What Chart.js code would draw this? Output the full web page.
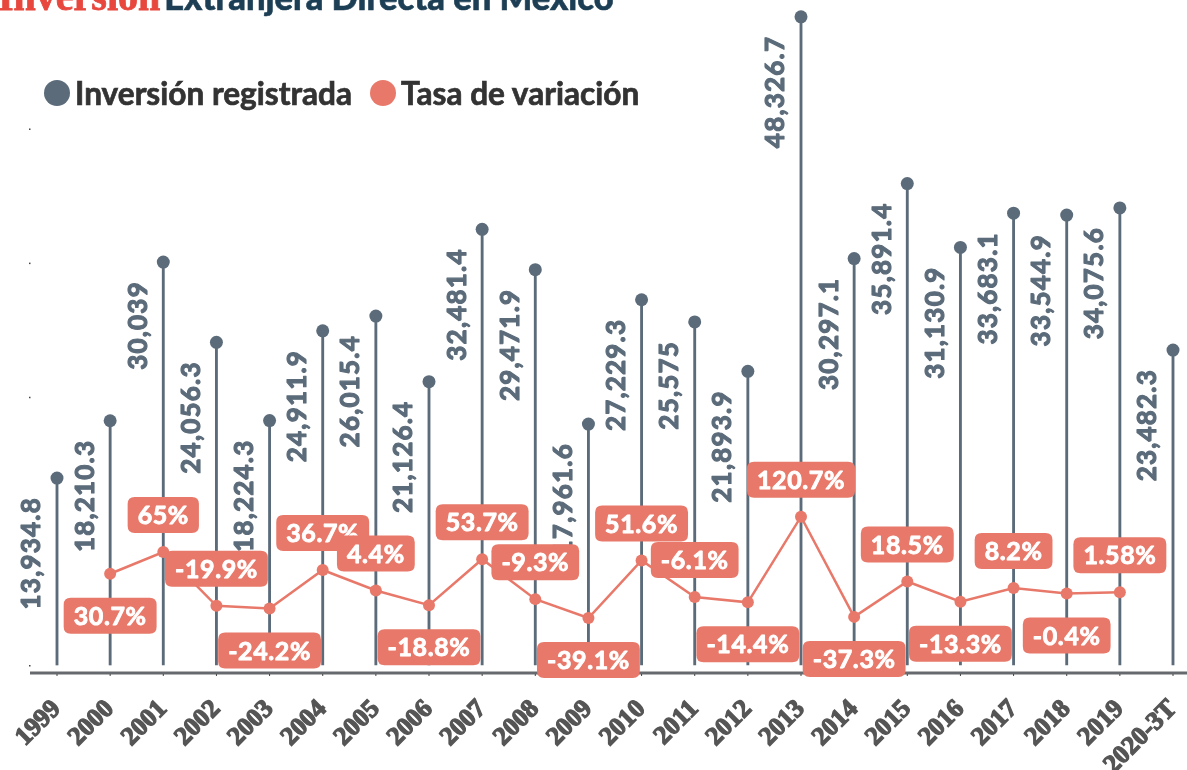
<!DOCTYPE html>
<html>
<head>
<meta charset="utf-8">
<script src="https://cdn.jsdelivr.net/npm/chart.js@4.4.1/dist/chart.umd.min.js"></script>
<style>
  html, body { margin: 0; padding: 0; background: #ffffff; overflow: hidden; }
  #wrap { position: relative; width: 1187px; height: 770px; }
  canvas { position: absolute; left: 0; top: 0; }
  .title { position: absolute; left: -2px; top: -25px; white-space: nowrap; line-height: 44px; }
  .t1 { font-family: "Liberation Serif", serif; font-weight: bold; font-size: 40px; color: #e8473e; -webkit-text-stroke: 0.8px #e8473e; }
  .t2 { font-family: Lato, sans-serif; font-weight: 900; font-size: 34.5px; color: #1d3f55; -webkit-text-stroke: 0.6px #1d3f55; }
  .legend { position: absolute; left: 44px; top: 74px; display: flex; align-items: center;
            font-family: Lato, sans-serif; font-weight: bold; font-size: 31.6px; color: #333; white-space: nowrap;
            -webkit-text-stroke: 0.7px #333; }
  .dot { width: 26px; height: 26px; border-radius: 50%; display: inline-block; margin-right: 5px; }
  .item { display: flex; align-items: center; margin-right: 18px; }
</style>
</head>
<body>
<div id="wrap">
  <canvas id="c" width="1187" height="770"></canvas>
  <div class="title"><span class="t1">Inversión</span> <span class="t2">Extranjera Directa en México</span></div>
  <div class="legend">
    <div class="item"><span class="dot" style="background:#5b6b7a"></span>Inversión registrada</div>
    <div class="item"><span class="dot" style="background:#e8796a"></span>Tasa de variación</div>
  </div>
</div>
<script>
const years = ['1999','2000','2001','2002','2003','2004','2005','2006','2007','2008','2009','2010','2011','2012','2013','2014','2015','2016','2017','2018','2019','2020-3T'];
const inversion = [13934.8, 18210.3, 30039, 24056.3, 18224.3, 24911.9, 26015.4, 21126.4, 32481.4, 29471.9, 17961.6, 27229.3, 25575, 21893.9, 48326.7, 30297.1, 35891.4, 31130.9, 33683.1, 33544.9, 34075.6, 23482.3];
const variacion = [null, 30.7, 65, -19.9, -24.2, 36.7, 4.4, -18.8, 53.7, -9.3, -39.1, 51.6, -6.1, -14.4, 120.7, -37.3, 18.5, -13.3, 8.2, -0.4, 1.58, null];

const GRAY = '#5b6b7a';
const SALMON = '#e8796a';

const labelSide = ['below','below','above','above','below','above','above','below','above','above','below','above','above','below','above','below','above','below','above','below','above','below'];

const fmtInv = v => v.toLocaleString('en-US', { maximumFractionDigits: 1 });

function roundRect(ctx, x, y, w, h, r) {
  ctx.beginPath();
  ctx.moveTo(x + r, y);
  ctx.lineTo(x + w - r, y);
  ctx.quadraticCurveTo(x + w, y, x + w, y + r);
  ctx.lineTo(x + w, y + h - r);
  ctx.quadraticCurveTo(x + w, y + h, x + w - r, y + h);
  ctx.lineTo(x + r, y + h);
  ctx.quadraticCurveTo(x, y + h, x, y + h - r);
  ctx.lineTo(x, y + r);
  ctx.quadraticCurveTo(x, y, x + r, y);
  ctx.closePath();
}

const decor = {
  id: 'decor',
  beforeDatasetsDraw(chart) {
    const ctx = chart.ctx;
    const a = chart.chartArea;
    const y = a.bottom + 8;
    ctx.save();
    ctx.strokeStyle = '#666a6e';
    ctx.lineWidth = 3;
    ctx.beginPath();
    ctx.moveTo(30, y);
    ctx.lineTo(chart.width, y);
    ctx.stroke();
    ctx.fillStyle = '#444';
    const xs = chart.scales.x;
    years.forEach((_, i) => {
      const x = xs.getPixelForValue(i);
      ctx.fillRect(x - 0.5, y + 1, 1, 2);
    });
    const ys = chart.scales.y;
    [0, 10000, 20000, 30000, 40000].forEach(v => {
      ctx.fillRect(29, ys.getPixelForValue(v), 1.5, 1.5);
    });
    ctx.restore();
  },
  afterDatasetDraw(chart, args) {
    if (args.index !== 1) return;
    const ctx = chart.ctx;
    ctx.save();
    ctx.font = 'bold 26px Lato';
    try { ctx.letterSpacing = '1.2px'; } catch (e) {}
    ctx.fillStyle = GRAY;
    ctx.strokeStyle = GRAY;
    ctx.lineWidth = 1.1;
    ctx.lineJoin = 'round';
    ctx.textAlign = 'right';
    ctx.textBaseline = 'middle';
    args.meta.data.forEach((pt, i) => {
      ctx.save();
      ctx.translate(pt.x - 25, pt.y + 19);
      ctx.rotate(-Math.PI / 2);
      const t = fmtInv(inversion[i]);
      ctx.fillText(t, 0, 0);
      ctx.strokeText(t, 0, 0);
      ctx.restore();
    });
    ctx.restore();
  },
  afterDatasetsDraw(chart) {
    const ctx = chart.ctx;
    const meta = chart.getDatasetMeta(2);
    ctx.save();
    ctx.font = 'bold 25px Lato';
    try { ctx.letterSpacing = '0.6px'; } catch (e) {}
    ctx.textAlign = 'center';
    ctx.textBaseline = 'middle';
    ctx.lineJoin = 'round';
    meta.data.forEach((pt, i) => {
      const v = variacion[i];
      if (v === null || v === undefined) return;
      const txt = String(v) + '%';
      const w = ctx.measureText(txt).width + 20;
      const h = 36;
      const cy = labelSide[i] === 'above' ? pt.y - 37 : pt.y + 42;
      ctx.fillStyle = SALMON;
      roundRect(ctx, pt.x - w / 2, cy - h / 2, w, h, 7);
      ctx.fill();
      ctx.fillStyle = '#ffffff';
      ctx.strokeStyle = '#ffffff';
      ctx.lineWidth = 0.9;
      ctx.fillText(txt, pt.x, cy + 1);
      ctx.strokeText(txt, pt.x, cy + 1);
    });
    ctx.restore();
  }
};

new Chart(document.getElementById('c'), {
  data: {
    labels: years,
    datasets: [
      { type: 'bar', data: inversion, backgroundColor: GRAY, barThickness: 2.2, yAxisID: 'y', order: 3, clip: false },
      { type: 'line', data: inversion, showLine: false, pointRadius: 6.5, pointBackgroundColor: GRAY, pointBorderWidth: 0, yAxisID: 'y', order: 2, clip: false },
      { type: 'line', data: variacion, borderColor: SALMON, borderWidth: 2.5, pointRadius: 6, pointBackgroundColor: SALMON, pointBorderWidth: 0, yAxisID: 'y1', order: 1, spanGaps: false, clip: false }
    ]
  },
  options: {
    responsive: false,
    animation: false,
    events: [],
    layout: { padding: { left: 57, right: 14, top: 10, bottom: 0 } },
    plugins: { legend: { display: false }, tooltip: { enabled: false }, title: { display: false } },
    scales: {
      x: {
        offset: false,
        grid: { display: false },
        border: { display: false },
        ticks: {
          autoSkip: false, minRotation: 45, maxRotation: 45, padding: 21,
          color: '#555555',
          textStrokeColor: '#555555', textStrokeWidth: 1.3,
          font: { family: 'Liberation Serif', weight: 'bold', size: 26 }
        },
        afterFit(scale) {
          scale.height = 105;
          scale.paddingLeft = 0;
          scale.paddingRight = 0;
        }
      },
      y: { display: false, min: 0, max: 48833 },
      y1: { display: false, min: -113.2, max: 919.9 }
    }
  },
  plugins: [decor]
});
</script>
</body>
</html>
